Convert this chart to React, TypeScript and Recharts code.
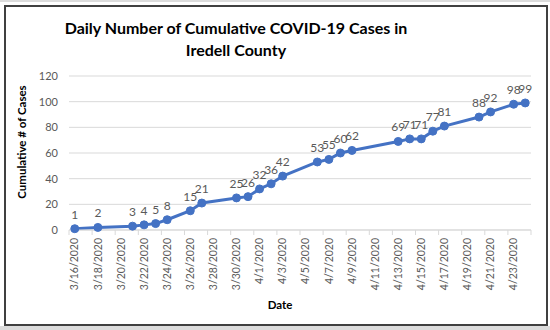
import React from "react";
import { LineChart, Line, XAxis, YAxis, CartesianGrid, LabelList } from "recharts";

const dates = [
  "3/16/2020", "3/17/2020", "3/18/2020", "3/19/2020", "3/20/2020", "3/21/2020", "3/22/2020", "3/23/2020",
  "3/24/2020", "3/25/2020", "3/26/2020", "3/27/2020", "3/28/2020", "3/29/2020", "3/30/2020", "3/31/2020",
  "4/1/2020", "4/2/2020", "4/3/2020", "4/4/2020", "4/5/2020", "4/6/2020", "4/7/2020", "4/8/2020",
  "4/9/2020", "4/10/2020", "4/11/2020", "4/12/2020", "4/13/2020", "4/14/2020", "4/15/2020", "4/16/2020",
  "4/17/2020", "4/18/2020", "4/19/2020", "4/20/2020", "4/21/2020", "4/22/2020", "4/23/2020", "4/24/2020",
];

const cases: (number | null)[] = [
  1, null, 2, null, null, 3, 4, 5,
  8, null, 15, 21, null, null, 25, 26,
  32, 36, 42, null, null, 53, 55, 60,
  62, null, null, null, 69, 71, 71, 77,
  81, null, null, 88, 92, null, 98, 99,
];

const tickDates = [
  "3/16/2020", "3/18/2020", "3/20/2020", "3/22/2020", "3/24/2020", "3/26/2020", "3/28/2020", "3/30/2020",
  "4/1/2020", "4/3/2020", "4/5/2020", "4/7/2020", "4/9/2020", "4/11/2020", "4/13/2020", "4/15/2020",
  "4/17/2020", "4/19/2020", "4/21/2020", "4/23/2020",
];

const yTicks = [0, 20, 40, 60, 80, 100, 120];

const data = dates.map((d, i) => ({ idx: i, date: d, cases: cases[i] }));
const xTicks = tickDates.map((d) => dates.indexOf(d));

const W = 550;
const H = 330;
const M_TOP = 76;
const M_RIGHT = 19;
const Y_W = 69;
const X_H = 100;
const PLOT_W = W - M_RIGHT - Y_W;
const STEP = PLOT_W / dates.length;
const FONT = "Lato, 'Open Sans', sans-serif";
const TICK_GAP = 8;

const DateTick = (props: any) => {
  const { x, y, payload, index } = props;
  const axisY = y - TICK_GAP;
  const half = STEP / 2;
  const isLast = index === tickDates.length - 1;
  return (
    <g>
      <line x1={x - half} x2={x - half} y1={axisY} y2={axisY + 5} stroke="#d9d9d9" />
      {isLast && (
        <line x1={x + 3 * half} x2={x + 3 * half} y1={axisY} y2={axisY + 5} stroke="#d9d9d9" />
      )}
      <text
        transform={`translate(${x},${y}) rotate(-90)`}
        textAnchor="end"
        dy="0.35em"
        fontSize={10.5}
        fill="#595959"
        fontFamily={FONT}
      >
        {dates[payload.value]}
      </text>
    </g>
  );
};

export default function App() {
  return (
    <div style={{ position: "absolute", left: 0, top: 0, width: W, height: H, background: "#fff", fontFamily: FONT }}>
      <div style={{ position: "absolute", left: 0, top: 0, width: W, height: 2, background: "#dcdcdc" }} />
      <div style={{ position: "absolute", left: 0, top: 326, width: W, height: 4, background: "#dcdcdc" }} />
      <div
        style={{
          position: "absolute",
          left: 4,
          top: 5,
          width: 540,
          height: 317,
          border: "2px solid #404040",
          boxSizing: "content-box",
        }}
      />
      <div
        style={{
          position: "absolute",
          left: 36,
          width: 400,
          top: 17,
          textAlign: "center",
          fontWeight: 700,
          fontSize: 16,
          lineHeight: "22px",
          color: "#000",
        }}
      >
        Daily Number of Cumulative COVID-19 Cases in
        <br />
        Iredell County
      </div>
      <div
        style={{
          position: "absolute",
          left: 22 - 80,
          top: 142 - 8,
          width: 160,
          height: 16,
          lineHeight: "16px",
          textAlign: "center",
          transform: "rotate(-90deg)",
          fontWeight: 700,
          fontSize: 11.5,
          color: "#000",
        }}
      >
        Cumulative # of Cases
      </div>
      <div
        style={{
          position: "absolute",
          left: 240,
          width: 80,
          top: 297,
          textAlign: "center",
          fontWeight: 700,
          fontSize: 11.5,
          lineHeight: "16px",
          color: "#000",
        }}
      >
        Date
      </div>
      <div style={{ position: "absolute", left: 0, top: 0 }}>
        <LineChart width={W} height={H} data={data} margin={{ top: M_TOP, right: M_RIGHT, left: 0, bottom: 0 }}>
          <CartesianGrid vertical={false} stroke="#d9d9d9" />
          <XAxis
            dataKey="idx"
            type="number"
            domain={[-0.5, dates.length - 0.5]}
            ticks={xTicks}
            interval={0}
            height={X_H}
            tickLine={false}
            tickSize={0}
            tickMargin={TICK_GAP}
            axisLine={{ stroke: "#d9d9d9" }}
            tick={<DateTick />}
          />
          <YAxis
            width={Y_W}
            domain={[0, 120]}
            ticks={yTicks}
            axisLine={false}
            tickLine={false}
            tickSize={0}
            tickMargin={11}
            tick={{ fontSize: 11, fill: "#595959", fontFamily: FONT }}
          />
          <Line
            dataKey="cases"
            stroke="#4472c4"
            strokeWidth={3}
            connectNulls
            isAnimationActive={false}
            dot={{ r: 4, fill: "#4472c4", stroke: "#4472c4", strokeWidth: 1 }}
            activeDot={false}
          >
            <LabelList dataKey="cases" position="top" offset={10} fontSize={12} fill="#595959" fontFamily={FONT} />
          </Line>
        </LineChart>
      </div>
    </div>
  );
}
